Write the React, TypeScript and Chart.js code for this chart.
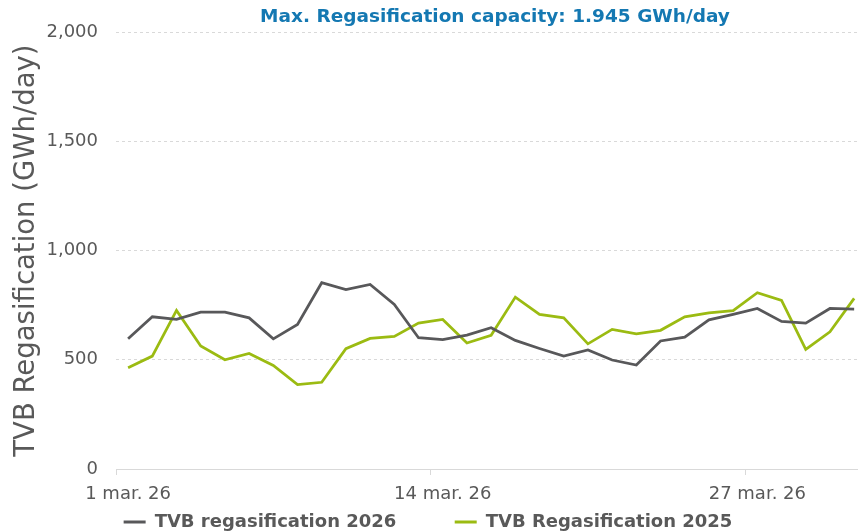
import React, { useEffect, useRef } from "react";
import { Chart, registerables } from "chart.js";

Chart.register(...registerables);

const dateLabels: string[] = [
  "1 mar. 26", "2 mar. 26", "3 mar. 26", "4 mar. 26", "5 mar. 26", "6 mar. 26",
  "7 mar. 26", "8 mar. 26", "9 mar. 26", "10 mar. 26", "11 mar. 26", "12 mar. 26",
  "13 mar. 26", "14 mar. 26", "15 mar. 26", "16 mar. 26", "17 mar. 26", "18 mar. 26",
  "19 mar. 26", "20 mar. 26", "21 mar. 26", "22 mar. 26", "23 mar. 26", "24 mar. 26",
  "25 mar. 26", "26 mar. 26", "27 mar. 26", "28 mar. 26", "29 mar. 26", "30 mar. 26",
  "31 mar. 26",
];

const regas2026: number[] = [
  596, 697, 685, 718, 718, 692, 596, 662, 853, 821, 845, 754, 601, 592, 613, 647,
  589, 552, 517, 545, 499, 476, 586, 604, 683, 708, 735, 676, 668, 735, 732,
];

const regas2025: number[] = [
  464, 517, 726, 563, 500, 529, 474, 386, 397, 551, 598, 607, 668, 685, 577, 612,
  787, 708, 692, 573, 639, 619, 635, 697, 715, 725, 807, 772, 548, 628, 781,
];

const labelledDays: number[] = [0, 13, 26];
const yTickValues: number[] = [0, 500, 1000, 1500, 2000];

const seriesNames = ["TVB regasification 2026", "TVB Regasification 2025"];
const chartTitle = "Max. Regasification capacity: 1.945 GWh/day";
const yAxisTitle = "TVB Regasification (GWh/day)";

const GRAY_TEXT = "#595959";
const GRID = "#d9d9d9";
const FONT = "'DejaVu Sans', Verdana, sans-serif";

export default function App() {
  const ref = useRef<HTMLCanvasElement | null>(null);

  useEffect(() => {
    if (!ref.current) return;
    const toPoints = (arr: number[]) => arr.map((v, i) => ({ x: i, y: v }));
    const tickVals: number[] = [];
    labelledDays.forEach((d) => {
      tickVals.push(d - 0.5, d);
    });

    const chart = new Chart(ref.current, {
      type: "line",
      data: {
        datasets: [
          {
            label: seriesNames[0],
            data: toPoints(regas2026),
            borderColor: "#58585a",
            backgroundColor: "#58585a",
            borderWidth: 2.75,
            pointRadius: 0,
            tension: 0,
          },
          {
            label: seriesNames[1],
            data: toPoints(regas2025),
            borderColor: "#9bbb12",
            backgroundColor: "#9bbb12",
            borderWidth: 2.75,
            pointRadius: 0,
            tension: 0,
          },
        ],
      },
      options: {
        animation: false,
        responsive: false,
        maintainAspectRatio: false,
        layout: { padding: { top: 0, left: 0, right: 0, bottom: -9 } },
        plugins: {
          tooltip: { enabled: false },
          title: {
            display: true,
            text: chartTitle,
            fullSize: false,
            color: "#1478b2",
            font: { family: FONT, size: 18.5, weight: "bold" },
            padding: { top: 6, bottom: 4 },
          },
          legend: {
            position: "bottom",
            labels: {
              usePointStyle: true,
              pointStyle: "line",
              pointStyleWidth: 22,
              padding: 2,
              color: GRAY_TEXT,
              font: { family: FONT, size: 18, weight: "bold" },
              generateLabels: (c: any) => {
                const items = (Chart as any).defaults.plugins.legend.labels.generateLabels(c);
                return items.map((it: any, i: number) => ({
                  ...it,
                  text: i < items.length - 1 ? it.text + "\u00a0".repeat(9) : it.text,
                  lineWidth: 3,
                }));
              },
            },
          },
        },
        scales: {
          x: {
            type: "linear",
            min: -0.5,
            max: 30.82,
            afterBuildTicks: (scale: any) => {
              scale.ticks = tickVals.map((v) => ({ value: v }));
            },
            afterFit: (scale: any) => {
              scale.height = 42;
            },
            ticks: {
              autoSkip: false,
              maxRotation: 0,
              padding: 9,
              color: GRAY_TEXT,
              font: { family: FONT, size: 18 },
              callback: (value: any) =>
                Number.isInteger(value) ? dateLabels[value] : "",
            },
            grid: {
              drawOnChartArea: false,
              tickLength: 6,
              color: (ctx: any) =>
                ctx.tick && Number.isInteger(ctx.tick.value) ? "rgba(0,0,0,0)" : GRID,
            },
            border: { display: true, color: GRID, width: 1 },
          },
          y: {
            min: 0,
            max: 2000,
            afterBuildTicks: (scale: any) => {
              scale.ticks = yTickValues.map((v) => ({ value: v }));
            },
            afterFit: (scale: any) => {
              scale.width = 134;
            },
            ticks: {
              padding: 18,
              color: GRAY_TEXT,
              font: { family: FONT, size: 18 },
              callback: (value: any) => Number(value).toLocaleString("en-US"),
            },
            grid: {
              color: GRID,
              drawTicks: false,
              lineWidth: 1,
            },
            border: { display: false, dash: [3, 3] },
            title: {
              display: true,
              text: yAxisTitle,
              color: GRAY_TEXT,
              font: { family: FONT, size: 27.5 },
              padding: { top: 28, bottom: 0 },
            },
          },
        },
      },
    });
    return () => chart.destroy();
  }, []);

  return (
    <div
      style={{
        position: "absolute",
        left: 0,
        top: 0,
        width: 858,
        height: 532,
        overflow: "hidden",
        background: "#fff",
      }}
    >
      <canvas
        ref={ref}
        width={892}
        height={532}
        style={{ position: "absolute", left: -18, top: 0, display: "block" }}
      />
    </div>
  );
}
